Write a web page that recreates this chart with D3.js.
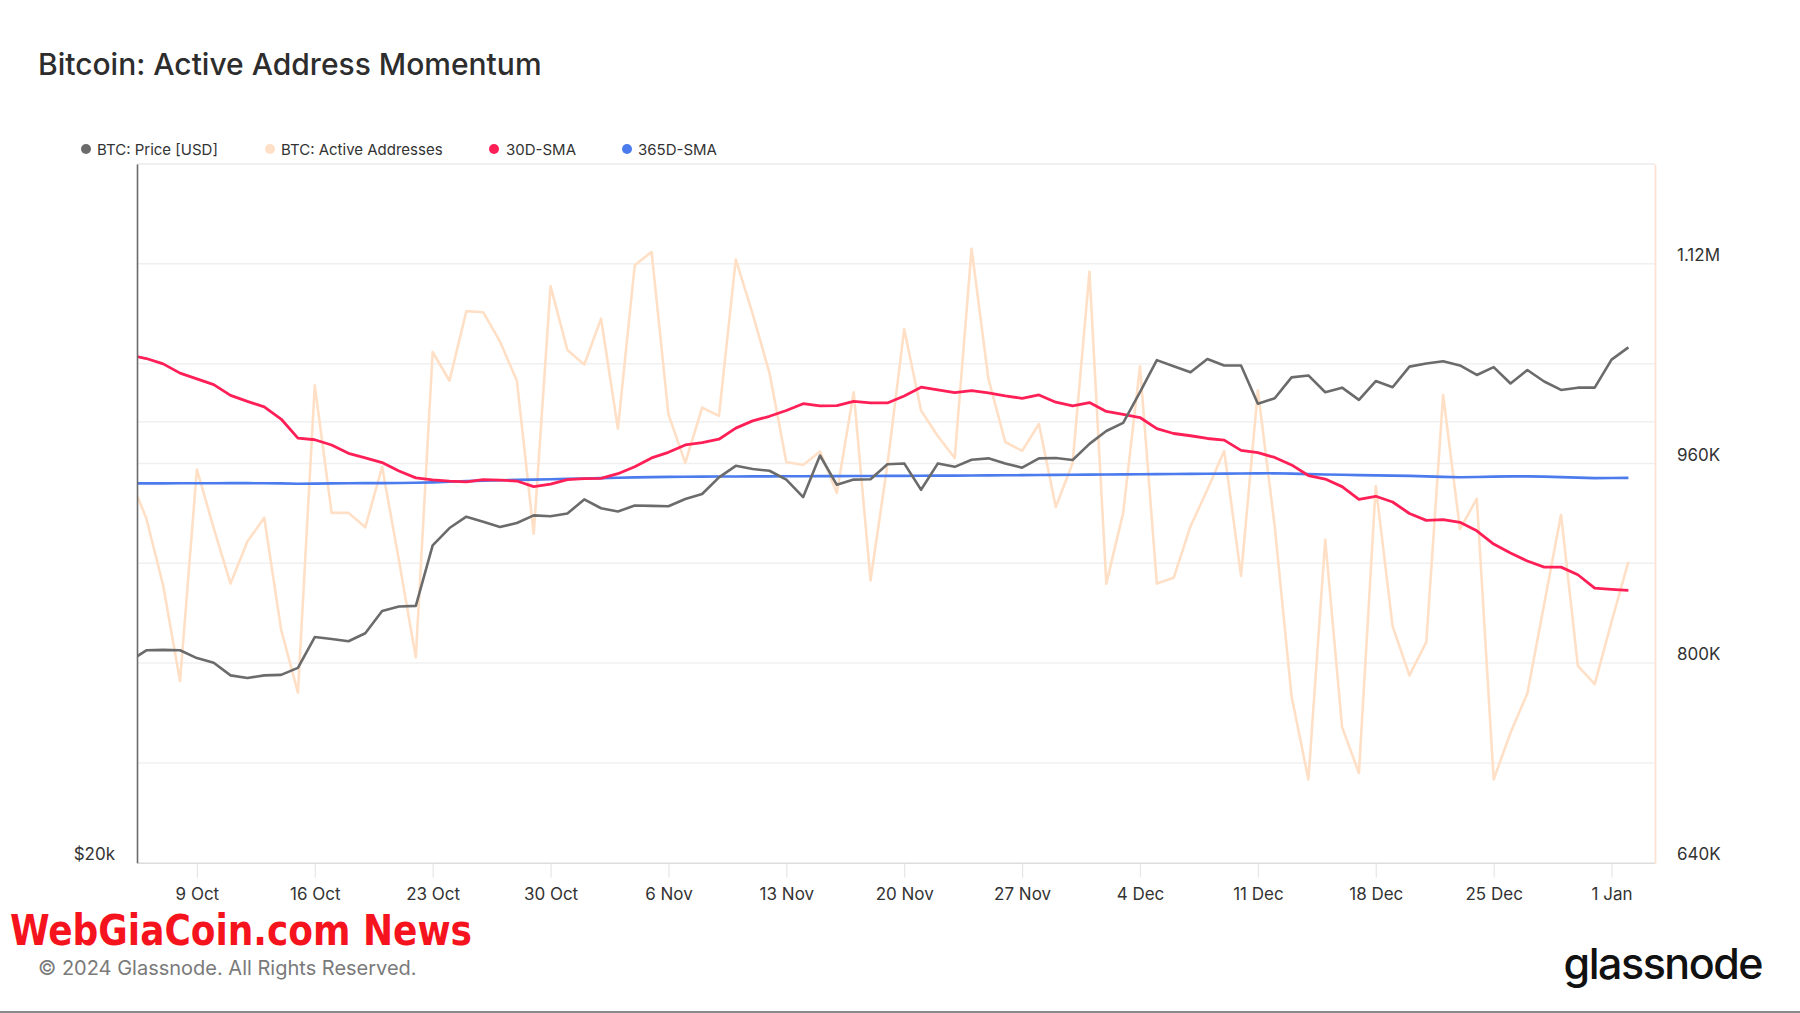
<!DOCTYPE html>
<html>
<head>
<meta charset="utf-8">
<script src="https://cdn.jsdelivr.net/npm/d3@7"></script>
<style>
  html, body { margin: 0; padding: 0; background: #fff; }
  svg { display: block; font-family: Inter, "Noto Sans", Roboto, sans-serif; }
</style>
</head>
<body>
<svg id="chart" width="1800" height="1013"></svg>
<script>
// ---------- DATA ----------
const firstDay = "2023-10-05";          // first daily point (partly clipped by the left edge)
const xDomainStart = "2023-10-05T10:40:00Z";
const xDomainEnd   = "2024-01-03T13:55:00Z";

const seriesNames = ["BTC: Price [USD]", "BTC: Active Addresses", "30D-SMA", "365D-SMA"];

const price = [
  27450, 27930, 27950, 27930, 27590, 27390, 26850, 26740, 26850, 26870,
  27170, 28520, 28430, 28330, 28690, 29710, 29920, 29950, 32940, 33850,
  34460, 34190, 33910, 34120, 34530, 34480, 34630, 35410, 34920, 34740,
  35070, 35050, 35030, 35430, 35710, 36660, 37330, 37140, 37040, 36530,
  35540, 37940, 36230, 36530, 36550, 37420, 37470, 35950, 37470, 37270,
  37690, 37770, 37470, 37220, 37770, 37790, 37670, 38640, 39430, 39940,
  41910, 44080, 43660, 43240, 44160, 43710, 43710, 41160, 41510, 42900,
  43030, 41910, 42210, 41410, 42650, 42240, 43630, 43840, 44000, 43710,
  43060, 43600, 42490, 43400, 42620, 42060, 42210, 42210, 44110, 44970
];

const activeAddresses = [
  949000, 915900, 862200, 785500, 955200, 908200, 863700, 897400, 916500, 826900,
  776300, 1022600, 920400, 920400, 908800, 957300, 882100, 804500, 1049300, 1026300,
  1082100, 1081200, 1057600, 1026300, 903600, 1102100, 1050900, 1039200, 1076000, 987900,
  1118900, 1129600, 999300, 960400, 1004800, 998100, 1123500, 1079900, 1032400, 961200,
  958800, 969600, 936400, 1017100, 866200, 958800, 1067700, 1002400, 981800, 964400,
  1132100, 1027800, 977200, 970100, 991600, 925100, 960400, 1113700, 863700, 920400,
  1037900, 863700, 868300, 909700, 938900, 970100, 869900, 1018600, 909700, 773200,
  706700, 899000, 748700, 711900, 941900, 829400, 790100, 816800, 1014900, 907300,
  931800, 706700, 744100, 775700, 847400, 918900, 797800, 783100, 833100, 881200
];

const sma30 = [
  1046800, 1044100, 1039800, 1032400, 1027800, 1023200, 1014600, 1009700, 1005400, 995600,
  980300, 979000, 974800, 968100, 964400, 960700, 953900, 948400, 946800, 945900,
  945300, 947100, 946600, 945900, 941400, 943400, 947100, 947800, 948100, 951800,
  957300, 964400, 968900, 974800, 976600, 979400, 988300, 994100, 997800, 1002400,
  1007900, 1006100, 1006400, 1009700, 1008500, 1008500, 1014100, 1021100, 1019000, 1016800,
  1018300, 1016500, 1014100, 1012200, 1014900, 1009100, 1006100, 1008800, 1001700, 999300,
  996800, 987900, 984000, 982200, 980000, 978700, 970500, 968600, 964800, 958800,
  950300, 947500, 941400, 931200, 933700, 929100, 919900, 914400, 914900, 912800,
  906000, 895400, 888200, 881800, 876900, 876900, 870800, 860000, 859100, 858200
];

const sma365 = [
  944100, 944000, 944000, 944100, 944100, 944100, 944200, 944200, 944100, 944000,
  943700, 943800, 944000, 944100, 944200, 944200, 944300, 944500, 944800, 945300,
  945800, 946200, 946500, 946800, 947000, 947300, 947600, 947900, 948200, 948500,
  948800, 949000, 949200, 949300, 949400, 949500, 949500, 949600, 949600, 949700,
  949700, 949800, 949800, 949900, 949900, 950000, 950000, 950100, 950200, 950200,
  950300, 950400, 950500, 950600, 950700, 950800, 950900, 951000, 951100, 951200,
  951300, 951400, 951500, 951600, 951700, 951800, 951900, 952000, 952100, 951800,
  951400, 951100, 950900, 950600, 950400, 950200, 950000, 949600, 949200, 948900,
  949100, 949400, 949600, 949600, 949400, 949000, 948600, 948200, 948300, 948400
];

const xTickDates = ["2023-10-09","2023-10-16","2023-10-23","2023-10-30","2023-11-06","2023-11-13",
  "2023-11-20","2023-11-27","2023-12-04","2023-12-11","2023-12-18","2023-12-25","2024-01-01"];
const rightTicks = [640000, 720000, 800000, 880000, 960000, 1040000, 1120000];
const rightTickLabels = {640000: "640K", 800000: "800K", 960000: "960K", 1120000: "1.12M"};
const leftTicks = [20000, 40000];
const leftTickLabels = {20000: "$20k"};

// ---------- LAYOUT ----------
const colors = { price: "#6b6b6b", aa: "#ffe0c6", sma30: "#ff1f57", sma365: "#4b7bec" };
const plot = { left: 137, right: 1655, top: 164, bottom: 862.7 };

const svg = d3.select("#chart");
const dates = d3.range(price.length).map(i => d3.utcDay.offset(new Date(firstDay + "T00:00:00Z"), i));

const x = d3.scaleUtc()
  .domain([new Date(xDomainStart), new Date(xDomainEnd)])
  .range([plot.left, plot.right]);
const yR = d3.scaleLinear().domain([640000, 1200000]).range([plot.bottom, plot.top]);
const yL = d3.scaleLog().domain([20000, 60000]).range([plot.bottom, plot.top]);

// Title
svg.append("text").attr("x", 38).attr("y", 75)
  .attr("font-size", 30).attr("font-weight", 500).attr("fill", "#2d2d2d")
  .text("Bitcoin: Active Address Momentum");

// Legend
const legendItems = [
  { name: seriesNames[0], color: colors.price, cx: 86, tx: 97 },
  { name: seriesNames[1], color: colors.aa, cx: 270, tx: 281 },
  { name: seriesNames[2], color: colors.sma30, cx: 494, tx: 506 },
  { name: seriesNames[3], color: colors.sma365, cx: 627, tx: 638 }
];
const lg = svg.append("g");
legendItems.forEach(d => {
  lg.append("circle").attr("cx", d.cx).attr("cy", 149).attr("r", 5).attr("fill", d.color);
  lg.append("text").attr("x", d.tx).attr("y", 154.5).attr("font-size", 15).attr("fill", "#333").text(d.name);
});

// Gridlines (right axis)
const grid = svg.append("g");
rightTicks.forEach(v => {
  if (v === 640000) return;
  grid.append("line").attr("x1", plot.left).attr("x2", plot.right)
    .attr("y1", yR(v)).attr("y2", yR(v)).attr("stroke", "#f0f0f0").attr("stroke-width", 1.5);
});
// Gridlines (left axis)
leftTicks.forEach(v => {
  if (v === 20000) return;
  grid.append("line").attr("x1", plot.left).attr("x2", plot.right)
    .attr("y1", yL(v)).attr("y2", yL(v)).attr("stroke", "#f0f0f0").attr("stroke-width", 1.5);
});
// Top border
grid.append("line").attr("x1", plot.left).attr("x2", plot.right)
  .attr("y1", plot.top).attr("y2", plot.top).attr("stroke", "#ebebeb").attr("stroke-width", 1.5);

// Clip
svg.append("defs").append("clipPath").attr("id", "clip")
  .append("rect").attr("x", plot.left).attr("y", plot.top)
  .attr("width", plot.right - plot.left).attr("height", plot.bottom - plot.top);

const lines = svg.append("g").attr("clip-path", "url(#clip)");
const mkLine = (arr, yScale) => d3.line().x((d, i) => x(dates[i])).y(d => yScale(d))(arr);

lines.append("path").attr("d", mkLine(activeAddresses, yR)).attr("fill", "none")
  .attr("stroke", colors.aa).attr("stroke-width", 2.6).attr("stroke-linejoin", "round");
lines.append("path").attr("d", mkLine(sma365, yR)).attr("fill", "none")
  .attr("stroke", colors.sma365).attr("stroke-width", 2.6).attr("stroke-linejoin", "round");
lines.append("path").attr("d", mkLine(sma30, yR)).attr("fill", "none")
  .attr("stroke", colors.sma30).attr("stroke-width", 2.8).attr("stroke-linejoin", "round");
lines.append("path").attr("d", mkLine(price, yL)).attr("fill", "none")
  .attr("stroke", colors.price).attr("stroke-width", 2.6).attr("stroke-linejoin", "round");

// Bottom x axis
const xTicks = xTickDates.map(s => new Date(s + "T00:00:00Z"));
const xAxis = d3.axisBottom(x).tickValues(xTicks).tickFormat(d3.utcFormat("%-d %b"))
  .tickSizeInner(15).tickSizeOuter(0).tickPadding(10);
const gx = svg.append("g").attr("transform", `translate(0,${plot.bottom})`).call(xAxis);
gx.select(".domain").attr("stroke", "#dcdcdc").attr("stroke-width", 1.5);
gx.selectAll(".tick line").attr("stroke", "#e6e6e6").attr("stroke-width", 1.2);
gx.selectAll(".tick text").attr("font-size", 17).attr("fill", "#333").attr("font-family", "Inter, sans-serif");

// Right axis
const yRAxis = d3.axisRight(yR).tickValues(rightTicks)
  .tickFormat(v => rightTickLabels[v] || "").tickSize(0).tickPadding(22);
const gr = svg.append("g").attr("transform", `translate(${plot.right},0)`).call(yRAxis);
gr.select(".domain").attr("stroke", "#fde3cf").attr("stroke-width", 1.8);
gr.selectAll(".tick text").attr("font-size", 17).attr("fill", "#333")
  .attr("font-family", "Inter, sans-serif").attr("dy", "-0.2em");

// Left axis
const yLAxis = d3.axisLeft(yL).tickValues(leftTicks)
  .tickFormat(v => leftTickLabels[v] || "").tickSize(0).tickPadding(22);
const gl = svg.append("g").attr("transform", `translate(${plot.left},0)`).call(yLAxis);
gl.select(".domain").attr("stroke", "#6a6a6a").attr("stroke-width", 1.6);
gl.selectAll(".tick text").attr("font-size", 17).attr("fill", "#333")
  .attr("font-family", "Inter, sans-serif").attr("dy", "-0.2em");

// Watermark
svg.append("text").attr("x", 10).attr("y", 945)
  .attr("font-family", "'Liberation Sans Narrow', 'DejaVu Sans Condensed', sans-serif")
  .attr("font-weight", 700).attr("font-size", 42).attr("fill", "#f5141e")
  .attr("textLength", 462).attr("lengthAdjust", "spacingAndGlyphs")
  .text("WebGiaCoin.com News");

// Footer
svg.append("text").attr("x", 38).attr("y", 975)
  .attr("font-size", 20).attr("fill", "#7a7a7a")
  .text("© 2024 Glassnode. All Rights Reserved.");
svg.append("text").attr("x", 1762).attr("y", 979).attr("text-anchor", "end")
  .attr("font-size", 43).attr("font-weight", 500).attr("fill", "#111").attr("letter-spacing", -1.5)
  .text("glassnode");

// bottom border
svg.append("rect").attr("x", 0).attr("y", 1011).attr("width", 1800).attr("height", 2).attr("fill", "#8a8a8a");
</script>
</body>
</html>
